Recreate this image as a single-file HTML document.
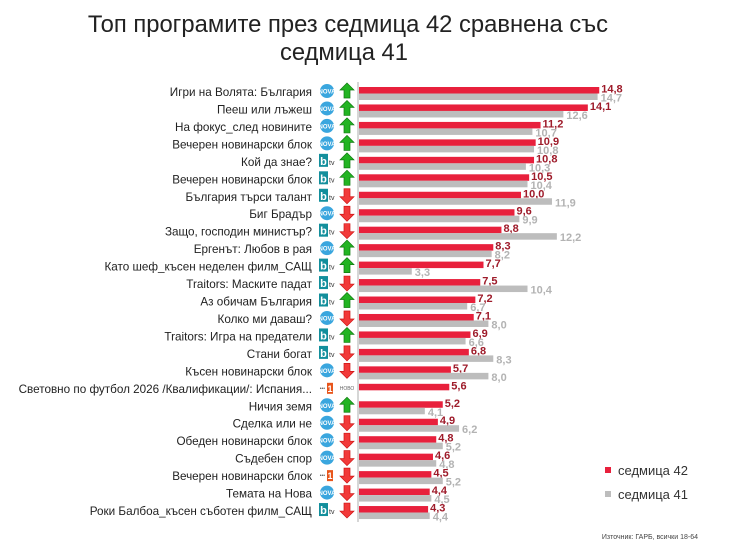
<!DOCTYPE html>
<html><head><meta charset="utf-8"><style>
body{margin:0;background:#fff;}
svg text{font-family:"Liberation Sans",sans-serif;}
</style></head><body>
<svg id="c" width="739" height="555" viewBox="0 0 739 555" xmlns="http://www.w3.org/2000/svg">
<text x="348" y="32" text-anchor="middle" font-size="23.8" fill="#222">Топ програмите през седмица 42 сравнена със</text>
<text x="344" y="60" text-anchor="middle" font-size="23.8" fill="#222">седмица 41</text>
<line x1="358" y1="82" x2="358" y2="522" stroke="#c8c8c8" stroke-width="1.5"/>
<g id="rows"></g>
<rect x="605" y="467" width="6" height="6" fill="#e8203c"/>
<text x="618" y="475" font-size="13" fill="#333">седмица 42</text>
<rect x="605" y="491" width="6" height="6" fill="#bdbdbd"/>
<text x="618" y="499" font-size="13" fill="#333">седмица 41</text>
<text x="698" y="539" text-anchor="end" font-size="7" fill="#444">Източник: ГАРБ, всички 18-64</text>
</svg>
<script>
const categories=["Игри на Волята: България","Пееш или лъжеш","На фокус_след новините","Вечерен новинарски блок","Кой да знае?","Вечерен новинарски блок","България търси талант","Биг Брадър","Защо, господин министър?","Ергенът: Любов в рая","Като шеф_късен неделен филм_САЩ","Traitors: Маските падат","Аз обичам България","Колко ми даваш?","Traitors: Игра на предатели","Стани богат","Късен новинарски блок","Световно по футбол 2026 /Квалификации/: Испания...","Ничия земя","Сделка или не","Обеден новинарски блок","Съдебен спор","Вечерен новинарски блок","Темата на Нова","Роки Балбоа_късен съботен филм_САЩ"];
const channels=["nova","nova","nova","nova","btv","btv","btv","nova","btv","nova","btv","btv","btv","nova","btv","btv","nova","bnt","nova","nova","nova","nova","bnt","nova","btv"];
const week42=[14.8,14.1,11.2,10.9,10.8,10.5,10.0,9.6,8.8,8.3,7.7,7.5,7.2,7.1,6.9,6.8,5.7,5.6,5.2,4.9,4.8,4.6,4.5,4.4,4.3];
const week41=[14.7,12.6,10.7,10.8,10.3,10.4,11.9,9.9,12.2,8.2,3.3,10.4,6.7,8.0,6.6,8.3,8.0,null,4.1,6.2,5.2,4.8,5.2,4.5,4.4];

const NS="http://www.w3.org/2000/svg";
const g=document.getElementById('rows');
const x0=358, pxPer=16.3, y0=92, step=17.46;
const xs=v=>x0+v*pxPer;
const ys=i=>y0+i*step;
function el(t,a,p){const e=document.createElementNS(NS,t);for(const k in a)e.setAttribute(k,a[k]);(p||g).appendChild(e);return e;}
const fmt=v=>v.toFixed(1).replace('.',',');
categories.forEach((c,i)=>{
  const y=ys(i);
  const row=el('g',{});
  
  
  const t=el('text',{x:312,y:y+4,'text-anchor':'end','font-size':11.7,fill:'#222'},row);t.textContent=c;
  
  
  const ch=channels[i];
  const ic=el('g',{},row);
  
  
  if(ch==='nova'){
    el('circle',{cx:327,cy:y-1,r:7,fill:'#3aa6de'},ic);
    const tt=el('text',{x:327,y:y+1.5,'text-anchor':'middle','font-size':6,'font-weight':'bold',fill:'#fff'},ic);tt.textContent='NOVA';
  }else if(ch==='btv'){
    el('rect',{x:319,y:y-8,width:9,height:13,fill:'#138f9c'},ic);
    const b=el('text',{x:323.5,y:y+3,'text-anchor':'middle','font-size':11,'font-weight':'bold',fill:'#fff'},ic);b.textContent='b';
    const tv=el('text',{x:329,y:y+3,'font-size':7,fill:'#333'},ic);tv.textContent='tv';
  }else{
    el('rect',{x:327,y:y-6,width:6,height:11,fill:'#e8561c'},ic);
    const o=el('text',{x:330,y:y+3,'text-anchor':'middle','font-size':9,'font-weight':'bold',fill:'#fff'},ic);o.textContent='1';
    const d=el('text',{x:325,y:y+1,'text-anchor':'end','font-size':5,fill:'#555'},ic);d.textContent='•••';
  }
  if(week41[i]==null){
    const n=el('text',{x:347,y:y+1,'text-anchor':'middle','font-size':5,fill:'#666'},row);n.textContent='НОВО';
    
    
  }else{
    const up=week42[i]>=week41[i];
    let pts=up?[[347,y-9],[354,y-2],[350,y-2],[350,y+6],[344,y+6],[344,y-2],[340,y-2]]
              :[[347,y+7],[354,y],[350,y],[350,y-8],[344,y-8],[344,y],[340,y]];
    const a=el('polygon',{points:pts.map(p=>p.join(',')).join(' '),fill:up?'#22b422':'#f23a3a',stroke:up?'#0f7a0f':'#d01515','stroke-width':0.7},row);
    
    
  }
  const r=el('rect',{x:x0+1,y:y-5,width:xs(week42[i])-x0-1,height:6.5,fill:'#e8203c'},row);
  
  
  const rv=el('text',{x:xs(week42[i])+2,y:y+0.5,'font-size':11,'font-weight':'bold',fill:'#9e1b2a'},row);rv.textContent=fmt(week42[i]);
  
  
  if(week41[i]!=null){
    const gb=el('rect',{x:x0+1,y:y+1.5,width:xs(week41[i])-x0-1,height:6.5,fill:'#bdbdbd'},row);
    
    
    const gv=el('text',{x:xs(week41[i])+3,y:y+9.5,'font-size':11,'font-weight':'bold',fill:'#b3b3b3'},row);gv.textContent=fmt(week41[i]);
    
    
  }
});
</script>
</body></html>
